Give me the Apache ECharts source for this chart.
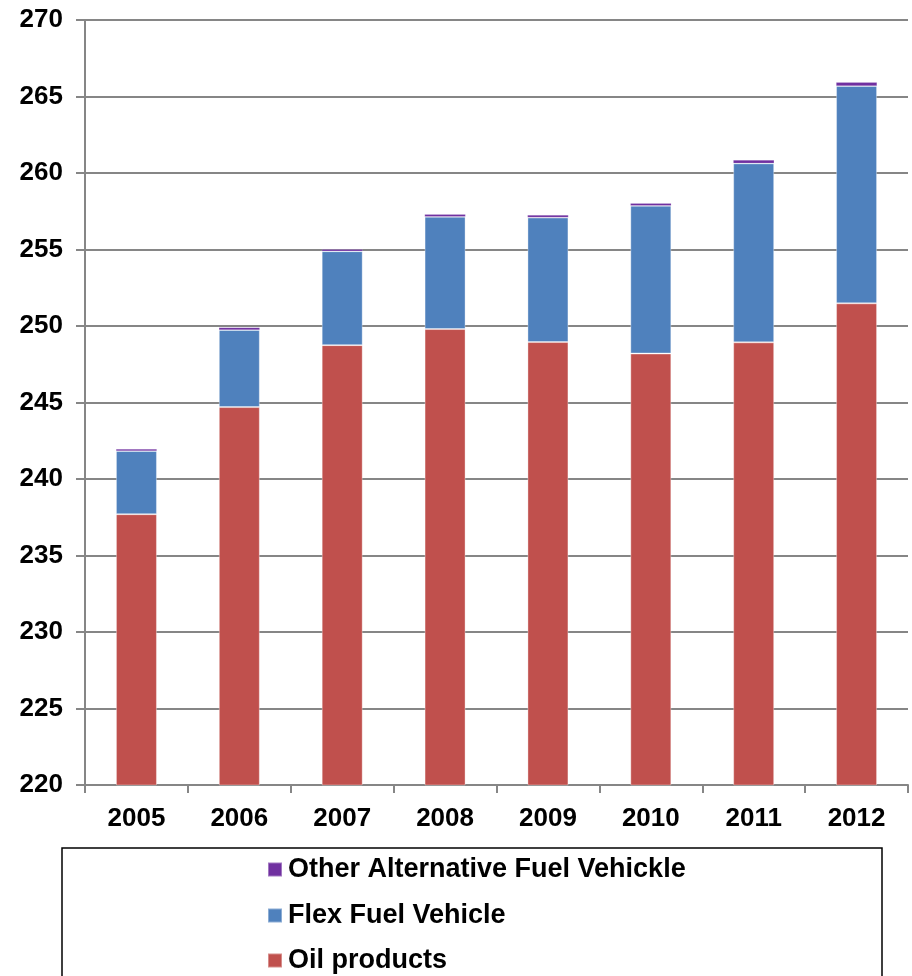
<!DOCTYPE html>
<html><head><meta charset="utf-8">
<script src="https://cdn.jsdelivr.net/npm/echarts@6/dist/echarts.min.js"></script>
<style>html,body{margin:0;padding:0;background:#fff}#c{width:912px;height:976px}</style>
</head><body><div id="c"></div>
<script>
const years = ['2005','2006','2007','2008','2009','2010','2011','2012'];
const oilProducts = [237.7, 244.7, 248.75, 249.8, 248.95, 248.2, 248.93, 251.48];
const flexFuel = [4.13, 5.04, 6.14, 7.34, 8.14, 9.66, 11.7, 14.21];
const otherAlt = [0.13, 0.17, 0.13, 0.16, 0.16, 0.16, 0.22, 0.24];
const yTicks = {min: 220, max: 270, interval: 5};
const legendNames = ['Other Alternative Fuel Vehickle', 'Flex Fuel Vehicle', 'Oil products'];

const chart = echarts.init(document.getElementById('c'), null, {renderer: 'canvas'});
const font = 'Liberation Sans, Arial, sans-serif';
const barBorder = 'rgba(255,255,255,0.35)';
const legendTops = [856, 902, 947];
chart.setOption({
  animation: false,
  grid: {left: 85, right: 4, top: 20, bottom: 191, containLabel: false},
  xAxis: {
    type: 'category', data: years,
    axisLine: {lineStyle: {color: '#868686', width: 2}},
    axisTick: {show: true, length: 8, lineStyle: {color: '#868686', width: 2}},
    axisLabel: {fontFamily: font, fontWeight: 'bold', fontSize: 26, color: '#000', margin: 21}
  },
  yAxis: {
    type: 'value', min: yTicks.min, max: yTicks.max, interval: yTicks.interval,
    axisLine: {show: true, lineStyle: {color: '#868686', width: 2}},
    axisTick: {show: true, length: 9, lineStyle: {color: '#868686', width: 2}},
    splitLine: {lineStyle: {color: '#868686', width: 2}},
    axisLabel: {fontFamily: font, fontWeight: 'bold', fontSize: 26, color: '#000', margin: 22}
  },
  legend: legendNames.map((n, i) => ({
    orient: 'vertical', left: 267, top: legendTops[i], padding: 0,
    itemWidth: 14, itemHeight: 14, icon: 'rect', data: [n],
    textStyle: {fontFamily: font, fontWeight: 'bold', fontSize: 27, color: '#000', padding: [0,0,0,1]}
  })),
  graphic: [{
    type: 'rect', shape: {x: 62, y: 848, width: 820, height: 140},
    style: {fill: 'none', stroke: '#000', lineWidth: 1.5}, silent: true
  }],
  series: [
    {name: 'Oil products', type: 'bar', stack: 's', data: oilProducts, barWidth: 41,
     itemStyle: {color: '#C0504D', borderColor: barBorder, borderWidth: 1}},
    {name: 'Flex Fuel Vehicle', type: 'bar', stack: 's', data: flexFuel, barWidth: 41,
     itemStyle: {color: '#4F81BD', borderColor: barBorder, borderWidth: 1}},
    {name: 'Other Alternative Fuel Vehickle', type: 'bar', stack: 's', data: otherAlt, barWidth: 41,
     itemStyle: {color: '#7030A0', borderColor: barBorder, borderWidth: 0.5}}
  ]
});
</script></body></html>
